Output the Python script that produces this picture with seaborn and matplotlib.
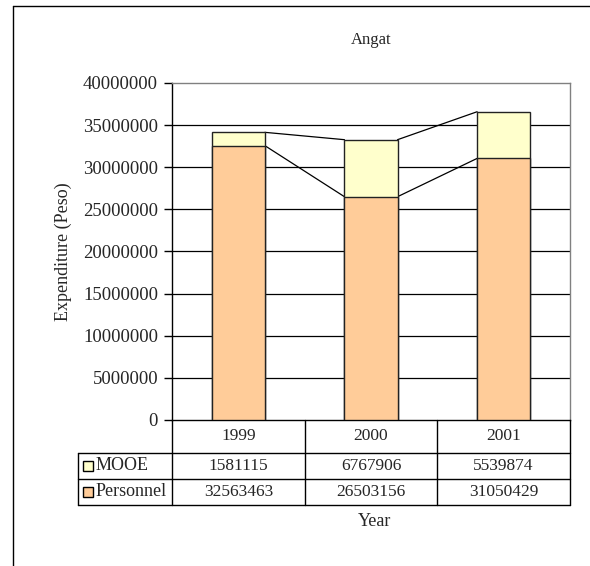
import matplotlib
matplotlib.use("Agg")
import matplotlib.pyplot as plt
import seaborn as sns
import pandas as pd
from matplotlib.lines import Line2D
from matplotlib.patches import Rectangle

# Expenditure data for Angat
years = ["1999", "2000", "2001"]
mooe = [1581115, 6767906, 5539874]
personnel = [32563463, 26503156, 31050429]
series_names = ["MOOE", "Personnel"]
series_colors = ["#FFFFCC", "#FFCC99"]
yticks = [0, 5000000, 10000000, 15000000, 20000000, 25000000, 30000000, 35000000, 40000000]

sns.set_theme(style="white")
plt.rcParams["font.family"] = ["Liberation Serif", "DejaVu Serif"]

W, H = 590, 566
fig = plt.figure(figsize=(W / 100, H / 100), dpi=100)


def fx(px):
    return px / W


def fy(py):
    return 1 - py / H


# plot area (pixel edges)
L, R, T, B = 172, 570, 83, 420
ax = fig.add_axes([fx(L), fy(B), fx(R) - fx(L), fy(T) - fy(B)])

df = pd.DataFrame({"Year": years, "MOOE": mooe, "Personnel": personnel})
df["Total"] = df["Personnel"] + df["MOOE"]

# stacked bars: total in MOOE colour, personnel drawn over it
sns.barplot(data=df, x="Year", y="Total", order=years, color=series_colors[0],
            saturation=1, width=0.4, edgecolor="#222222", linewidth=1,
            errorbar=None, ax=ax, zorder=3)
sns.barplot(data=df, x="Year", y="Personnel", order=years, color=series_colors[1],
            saturation=1, width=0.4, edgecolor="#222222", linewidth=1,
            errorbar=None, ax=ax, zorder=3)

# series lines joining the stacked segments
n = len(years)
tot_bars = ax.patches[:n]
per_bars = ax.patches[n:2 * n]
for group in (tot_bars, per_bars):
    for a, b in zip(group[:-1], group[1:]):
        ax.plot([a.get_x() + a.get_width(), b.get_x()],
                [a.get_height(), b.get_height()],
                color="black", lw=0.9, zorder=2)

ax.set_ylim(0, 40000000)
ax.set_xlim(-0.5, n - 0.5)
ax.set_yticks(yticks)
ax.set_yticklabels([str(v) for v in yticks])
for v in yticks[1:-1]:
    ax.axhline(v, color="black", lw=0.9, zorder=1)
ax.set_xlabel("")
ax.set_ylabel("")
ax.set_xticks([])
ax.tick_params(axis="y", which="major", left=True, length=6, width=1,
               color="black", direction="out", labelsize=13.5, pad=4)
for s in ("left", "bottom"):
    ax.spines[s].set_color("black")
    ax.spines[s].set_linewidth(1)
for s in ("top", "right"):
    ax.spines[s].set_color("#808080")
    ax.spines[s].set_linewidth(1)

# titles
fig.text(fx((L + R) / 2), fy(40), "Angat", ha="center", va="center", fontsize=12)
fig.text(fx(63), fy((T + B) / 2), "Expenditure (Peso)", rotation=90,
         ha="center", va="center", fontsize=13)
fig.text(fx(375), fy(521), "Year", ha="center", va="center", fontsize=13)

# data table under the axis
col_edges = [L + (R - L) * i / n for i in range(n + 1)]
row_edges = [B, 453, 479, 505]
tab_left = 78


def hline(x0, x1, y):
    fig.add_artist(Line2D([fx(x0), fx(x1)], [fy(y), fy(y)], color="black", lw=1))


def vline(x, y0, y1):
    fig.add_artist(Line2D([fx(x), fx(x)], [fy(y0), fy(y1)], color="black", lw=1))


for y in row_edges[1:]:
    hline(tab_left, R, y)
vline(tab_left, row_edges[1], row_edges[-1])
for x in col_edges:
    vline(x, B, row_edges[-1])

for i, yr in enumerate(years):
    cx = (col_edges[i] + col_edges[i + 1]) / 2
    fig.text(fx(cx), fy((row_edges[0] + row_edges[1]) / 2), yr,
             ha="center", va="center", fontsize=12.5)

table_rows = [mooe, personnel]
for r, (name, colr, vals) in enumerate(zip(series_names, series_colors, table_rows)):
    cy = (row_edges[r + 1] + row_edges[r + 2]) / 2
    sw = 10
    fig.add_artist(Rectangle((fx(83), fy(cy + sw / 2)), fx(sw), sw / H,
                             facecolor=colr, edgecolor="black", lw=1,
                             transform=fig.transFigure))
    fig.text(fx(96), fy(cy), name, ha="left", va="center", fontsize=13)
    for i, v in enumerate(vals):
        cx = (col_edges[i] + col_edges[i + 1]) / 2
        fig.text(fx(cx), fy(cy), str(v), ha="center", va="center", fontsize=12.5)

# outer chart frame
fig.add_artist(Line2D([fx(13), 1], [fy(6), fy(6)], color="black", lw=1))
fig.add_artist(Line2D([fx(13), fx(13)], [fy(6), 0], color="black", lw=1))

fig.savefig("out.png", dpi=100)
